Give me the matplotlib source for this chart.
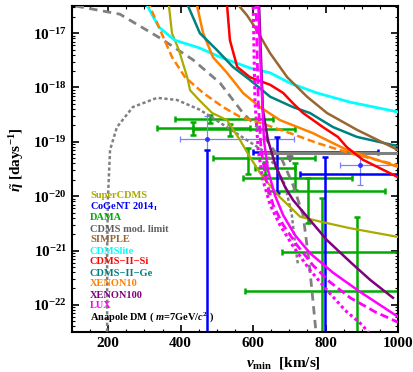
import numpy as np
import matplotlib.pyplot as plt
from matplotlib.ticker import MultipleLocator, NullFormatter, FixedLocator

plt.rcParams['font.family'] = 'Liberation Serif'
plt.rcParams['font.weight'] = 'bold'
plt.rcParams['mathtext.fontset'] = 'custom'
plt.rcParams['mathtext.rm'] = 'Liberation Serif:bold'
plt.rcParams['mathtext.it'] = 'Liberation Serif:italic:bold'
plt.rcParams['mathtext.bf'] = 'Liberation Serif:bold'

# limit curves: vmin [km/s] and log10(eta)
v_cdmsmod = [110, 232, 343, 434, 509, 572, 619, 652, 680, 710, 738, 754, 765, 775]
l_cdmsmod = [-16.50, -16.65, -17.09, -17.49, -17.92, -18.47, -18.78, -19.11, -19.33, -19.79, -20.35, -21.18, -21.91, -22.6]

v_cdmsmod2 = [197, 197, 199, 205, 224, 268, 335, 390, 453, 528, 583, 625, 660, 688, 707, 718, 724]
l_cdmsmod2 = [-22.6, -20.99, -20.07, -19.15, -18.73, -18.36, -18.19, -18.23, -18.41, -18.73, -18.97, -19.15, -19.43, -19.79, -20.35, -20.99, -21.27]

v_supercdms = [366, 376, 395, 418, 426, 451, 487, 528, 564, 591, 627, 674, 710, 730, 793, 868, 1000]
l_supercdms = [-16.4, -17.0, -17.31, -17.81, -18.05, -18.23, -18.47, -18.6, -18.97, -19.28, -19.65, -20.02, -20.25, -20.38, -20.48, -20.59, -20.75]

v_cdmslite = [300, 340, 384, 451, 509, 591, 647, 702, 776, 868, 1000]
l_cdmslite = [-16.4, -16.89, -17.13, -17.27, -17.44, -17.64, -17.73, -17.92, -18.1, -18.27, -18.45]

v_xe10d = [308, 340, 376, 412, 462, 517, 564, 619, 702, 776, 868, 1000]
l_xe10d = [-16.4, -16.89, -17.44, -17.81, -18.1, -18.36, -18.54, -18.65, -18.84, -19.02, -19.21, -19.43]

v_xe10 = [442, 462, 489, 528, 572, 619, 674, 765, 859, 1000]
l_xe10 = [-16.4, -17.0, -17.44, -17.73, -18.1, -18.36, -18.6, -18.84, -19.15, -19.46]

v_ge = [414, 453, 500, 544, 591, 647, 710, 757, 821, 887, 1000]
l_ge = [-16.4, -17.0, -17.31, -17.62, -17.86, -18.17, -18.36, -18.47, -18.73, -18.91, -19.08]

v_si = [527, 536, 556, 591, 647, 683, 710, 738, 793, 834, 859, 903, 1000]
l_si = [-16.4, -17.13, -17.62, -17.81, -17.95, -18.1, -18.29, -18.47, -18.73, -18.91, -19.1, -19.33, -19.65]

v_simple = [555, 583, 605, 647, 694, 749, 804, 887, 1000]
l_simple = [-16.45, -16.67, -16.89, -17.37, -17.81, -18.17, -18.47, -18.78, -19.15]

v_lux = [614, 619, 625, 630, 641, 660, 683, 716, 757, 821, 895, 1000]
l_lux = [-16.4, -17.31, -18.23, -18.97, -19.52, -19.98, -20.35, -20.72, -21.05, -21.41, -21.76, -22.22]

v_luxd = [608, 614, 622, 636, 655, 683, 721, 765, 812, 868, 937, 1000]
l_luxd = [-16.4, -18.23, -19.15, -19.7, -20.16, -20.53, -20.9, -21.27, -21.58, -21.87, -22.13, -22.32]

v_luxo = [600, 605, 614, 627, 647, 674, 713, 757, 804, 854, 901, 930]
l_luxo = [-16.4, -18.23, -19.15, -19.7, -20.16, -20.53, -20.95, -21.36, -21.73, -22.1, -22.37, -22.6]

v_xe100 = [616, 622, 627, 641, 663, 688, 710, 757, 804, 868, 923, 986]
l_xe100 = [-16.4, -17.49, -18.41, -18.97, -19.46, -19.83, -20.07, -20.44, -20.81, -21.21, -21.54, -21.87]

# DAMA crosses: center, vmin range, log eta range
dama_v = [481, 434, 536, 586, 633, 716, 790, 887, 752]
dama_l = [-18.58, -18.75, -18.76, -19.30, -19.48, -19.67, -21.03, -21.75, -19.91]
dama_vlo = [384, 335, 434, 489, 605, 572, 680, 578, 641]
dama_vhi = [655, 591, 716, 771, 716, 873, 1010, 1010, 964]
dama_lhi = [-18.51, -18.64, -18.67, -19.11, -19.37, -19.39, -20.03, -20.38, -19.67]
dama_llo = [-18.65, -18.87, -18.89, -19.59, -19.61, -19.89, -23.0, -23.0, -20.49]

# CoGeNT crosses
cog_v = [473, 666, 798]
cog_l = [-23.5, -19.19, -19.59]
cog_vlo = [473, 600, 730]
cog_vhi = [473, 945, 1010]
cog_lhi = [-19.15, -18.91, -19.28]
cog_llo = [-23.5, -19.94, -23.0]

cogl_v = [473, 895]
cogl_l = [-18.95, -19.43]
cogl_vlo = [398, 840]
cogl_vhi = [713, 1010]
cogl_lhi = [-18.52, -19.24]
cogl_llo = [-19.15, -19.79]

# CDMS modulation upper limit
cdms_lim_v = [619, 1000]
cdms_lim_l = -19.21
cdms_arrow_v = 702

yticks = [1e-22, 1e-21, 1e-20, 1e-19, 1e-18, 1e-17]

fig = plt.figure(figsize=(4.13, 3.72), dpi=100)
ax = fig.add_axes([72/413, 1-332/372, 326/413, 326/372])


def xbar(v, l, vlo, vhi, lhi, llo, color, lw, cap):
    v = np.array(v, float)
    eta = 10.0**np.array(l)
    xerr = [v - np.array(vlo), np.array(vhi) - v]
    yerr = [eta - 10.0**np.array(llo), 10.0**np.array(lhi) - eta]
    ax.errorbar(v, eta, xerr=xerr, yerr=yerr, fmt='none', ecolor=color,
                elinewidth=lw, capsize=cap, capthick=lw, zorder=2)


xbar(dama_v, dama_l, dama_vlo, dama_vhi, dama_lhi, dama_llo, '#00aa00', 1.8, 2.5)
xbar(cogl_v, cogl_l, cogl_vlo, cogl_vhi, cogl_lhi, cogl_llo, '#8080ff', 0.9, 2)
ax.plot(cogl_v, 10.0**np.array(cogl_l), 'o', color='#3030ff', ms=2.5, zorder=3)
xbar(cog_v, cog_l, cog_vlo, cog_vhi, cog_lhi, cog_llo, '#0000ff', 1.8, 2.5)

ax.plot(cdms_lim_v, [10**cdms_lim_l] * 2, color='#808080', lw=2.2, zorder=3)
ax.annotate('', xy=(cdms_arrow_v, 10**-19.45), xytext=(cdms_arrow_v, 10**cdms_lim_l),
            arrowprops=dict(arrowstyle='-|>', color='#707070', lw=1.5, mutation_scale=9), zorder=3)


def curve(v, l, color, ls='-', lw=1.6):
    ax.plot(v, 10.0**np.array(l), color=color, ls=ls, lw=lw, zorder=4)


curve(v_cdmsmod, l_cdmsmod, '#808080', ls=(0, (3, 2)), lw=2.0)
curve(v_cdmsmod2, l_cdmsmod2, '#808080', ls=(0, (1.3, 1)), lw=1.8)
curve(v_supercdms, l_supercdms, '#aaaa00')
curve(v_cdmslite, l_cdmslite, '#00ffff', lw=2.0)
curve(v_xe10d, l_xe10d, '#ff8000', ls=(0, (3, 1.5)), lw=1.8)
curve(v_xe10, l_xe10, '#ff8000', lw=1.8)
curve(v_ge, l_ge, '#008080', lw=1.8)
curve(v_si, l_si, '#ff0000', lw=1.8)
curve(v_simple, l_simple, '#996633', lw=1.8)
curve(v_xe100, l_xe100, '#800080', lw=1.8)
curve(v_lux, l_lux, '#ff00ff', lw=1.8)
curve(v_luxd, l_luxd, '#ff00ff', ls=(0, (3, 1.5)), lw=2.0)
curve(v_luxo, l_luxo, '#ff00ff', ls=(0, (1, 1)), lw=2.2)

ax.set_xlim(100, 1000)
ax.set_yscale('log')
ax.set_ylim(10**-22.5, 10**-16.5)

ax.xaxis.set_major_locator(FixedLocator([200, 400, 600, 800, 1000]))
ax.xaxis.set_minor_locator(MultipleLocator(50))
ax.yaxis.set_major_locator(FixedLocator(yticks))
ax.set_yticklabels([r'$10^{-%d}$' % k for k in (22, 21, 20, 19, 18, 17)])
minor = [m * 10.0**e for e in range(-23, -16) for m in range(2, 10)
         if 10**-22.5 <= m * 10.0**e <= 10**-16.5]
ax.yaxis.set_minor_locator(FixedLocator(minor))
ax.yaxis.set_minor_formatter(NullFormatter())
ax.tick_params(which='both', direction='in', top=True, right=True, labelsize=11)
ax.tick_params(which='major', length=5, width=1.2)
ax.tick_params(which='minor', length=2.5, width=0.8)
for s in ax.spines.values():
    s.set_linewidth(1.5)

ax.set_xlabel(r'$v_{\rm min}$  [km/s]', fontsize=11, fontweight='bold')
ax.xaxis.set_label_coords(0.65, -0.07)
ax.set_ylabel(r'$\tilde{\eta}$ [days$^{-1}$]', fontsize=11, fontweight='bold')
ax.yaxis.set_label_coords(-0.14, 0.53)

legend_names = ['SuperCDMS', r'CoGeNT 2014$_{\rm I}$', 'DAMA', 'CDMS mod. limit', 'SIMPLE',
                'CDMSlite', 'CDMS\u2212II\u2212Si', 'CDMS\u2212II\u2212Ge', 'XENON10', 'XENON100', 'LUX',
                r'Anapole DM ( $m$=7GeV/$c^2$ )']
legend_colors = ['#aaaa00', '#0000ff', '#00aa00', '#606060', '#996633', '#00ffff', '#ff0000',
                 '#008080', '#ff8000', '#800080', '#ff00ff', '#000000']
for i, (name, c) in enumerate(zip(legend_names, legend_colors)):
    fig.text(90/413, 1 - (196 + 11*i)/372, name, color=c, fontsize=7.5,
             fontweight='bold', va='center', ha='left')

fig.savefig('out.png', dpi=100)
